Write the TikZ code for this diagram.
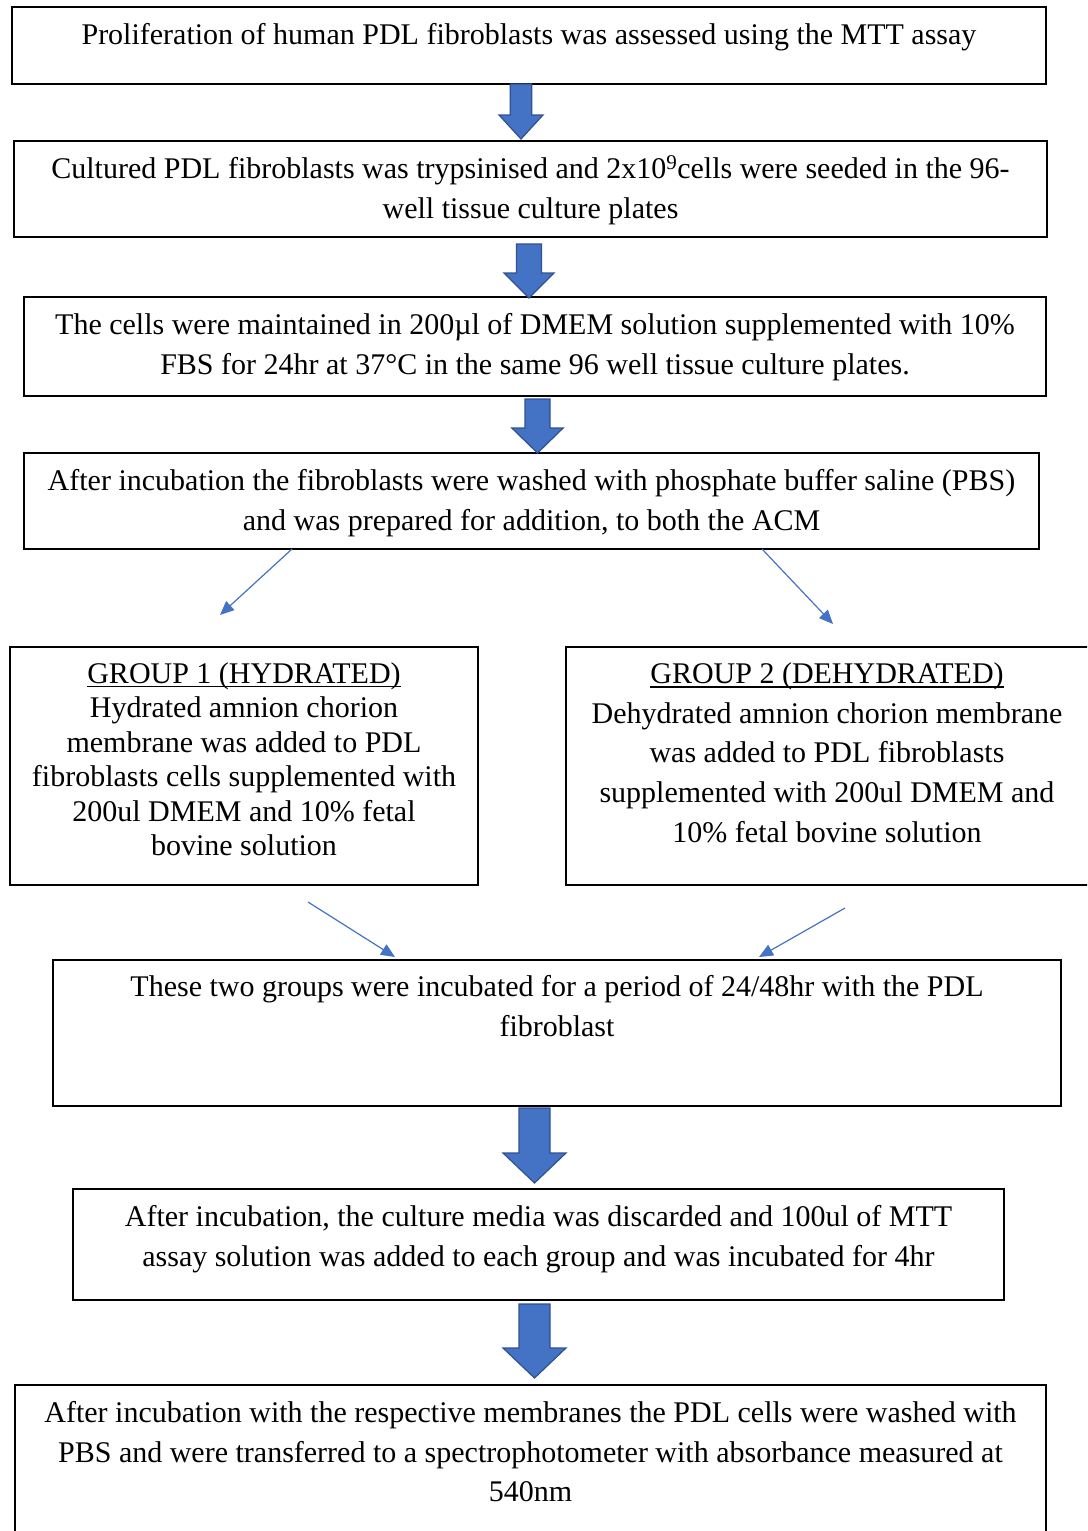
\documentclass[tikz,border=0pt]{standalone}
\usepackage{fontspec}
\setmainfont{Liberation Serif}
\usetikzlibrary{arrows.meta}
\definecolor{arrfill}{HTML}{4472C4}
\definecolor{arrline}{HTML}{2F528F}
\newcommand\myul[1]{\setbox0\hbox{#1}\rlap{\rule[-4pt]{\wd0}{1.3pt}}\box0}
\newcommand\blockarr[6]{%
  \filldraw[barrow] ({#1-#5},#2) -- ({#1+#5},#2) -- ({#1+#5},#3) -- ({#1+#6},#3)
    -- (#1,#4) -- ({#1-#6},#3) -- ({#1-#5},#3) -- cycle;}
\tikzset{
  box/.style={draw=black, line width=1.3pt, inner sep=0pt, outer sep=0pt, rectangle},
  txt/.style={inner sep=0pt, outer sep=0pt, anchor=north, align=center,
    font=\fontsize{30}{39.7}\selectfont},
  txtsingle/.style={txt, font=\fontsize{30}{34.5}\selectfont},
  barrow/.style={fill=arrfill, draw=arrline, line width=1.2pt, line join=miter},
  thin/.style={draw=arrfill, line width=1.2pt, -{Triangle[length=14pt,width=12pt]}}
}
\begin{document}
\begin{tikzpicture}[x=1pt,y=-1pt]
\useasboundingbox (0,0) rectangle (1087,1531);
\begin{scope}
\clip (0,0) rectangle (1087,1531);
% boxes
\node[box, minimum width=1034, minimum height=77] (b1) at (529,45.5) {};
\node[box, minimum width=1033, minimum height=96] (b2) at (530.5,189) {};
\node[box, minimum width=1022, minimum height=99] (b3) at (535,346.5) {};
\node[box, minimum width=1015, minimum height=96] (b4) at (531.5,501) {};
\node[box, minimum width=468, minimum height=238] (g1) at (244,766) {};
\node[box, minimum width=526, minimum height=238] (g2) at (829,766) {};
\node[box, minimum width=1008, minimum height=146] (b7) at (557,1033) {};
\node[box, minimum width=931, minimum height=111] (b8) at (538.5,1244.5) {};
\node[box, minimum width=1031, minimum height=160] (b9) at (530.5,1465) {};
\end{scope}
% texts
\node[txt] (t1) at ([yshift=-9.7pt]b1.north) {\strut Proliferation of human PDL fibroblasts was assessed using the MTT assay};
\node[txt] (t2) at ([yshift=-9.7pt]b2.north) {\strut Cultured PDL fibroblasts was trypsinised and 2x10\textsuperscript{9}cells were seeded in the 96-\\well tissue culture plates};
\node[txt] (t3) at ([yshift=-9.7pt]b3.north) {\strut The cells were maintained in 200µl of DMEM solution supplemented with 10\%\\FBS for 24hr at 37°C in the same 96 well tissue culture plates.};
\node[txt] (t4) at ([yshift=-9.7pt]b4.north) {\strut After incubation the fibroblasts were washed with phosphate buffer saline (PBS)\\and was prepared for addition, to both the ACM};
\node[txtsingle] (tg1) at ([yshift=-12.3pt]g1.north) {\strut\myul{GROUP 1 (HYDRATED)}\\Hydrated amnion chorion\\membrane was added to PDL\\fibroblasts cells supplemented with\\200ul DMEM and 10\% fetal\\bovine solution};
\node[txt] (tg2) at ([xshift=-2pt,yshift=-8.7pt]g2.north) {\strut\myul{GROUP 2 (DEHYDRATED)}\\Dehydrated amnion chorion membrane\\was added to PDL fibroblasts\\supplemented with 200ul DMEM and\\10\% fetal bovine solution};
\node[txt] (t7) at ([yshift=-8.7pt]b7.north) {\strut These two groups were incubated for a period of 24/48hr with the PDL\\fibroblast};
\node[txt] (t8) at ([yshift=-9.7pt]b8.north) {\strut After incubation, the culture media was discarded and 100ul of MTT\\assay solution was added to each group and was incubated for 4hr};
\node[txt] (t9) at ([yshift=-9.7pt]b9.north) {\strut After incubation with the respective membranes the PDL cells were washed with\\PBS and were transferred to a spectrophotometer with absorbance measured at\\540nm};
% block arrows: cx, top, headstart, tip, shafthalf, headhalf
\blockarr{521}{84}{115}{139}{10.7}{22}
\blockarr{529}{244}{273}{298}{12.5}{25}
\blockarr{537.5}{399}{428}{453}{12.5}{25.7}
\blockarr{534.5}{1108}{1153}{1183}{15.5}{31.5}
\blockarr{534.5}{1304}{1348}{1378}{15.5}{31.5}
% thin arrows
\coordinate (l1s) at (292,549); \coordinate (l1e) at (220,615);
\coordinate (r1s) at (762,549); \coordinate (r1e) at (833,624);
\coordinate (l2s) at (308,902); \coordinate (l2e) at (395,957);
\coordinate (r2s) at (845,908); \coordinate (r2e) at (759,957);
\draw[thin] (l1s) -- (l1e);
\draw[thin] (r1s) -- (r1e);
\draw[thin] (l2s) -- (l2e);
\draw[thin] (r2s) -- (r2e);
\end{tikzpicture}
\end{document}
